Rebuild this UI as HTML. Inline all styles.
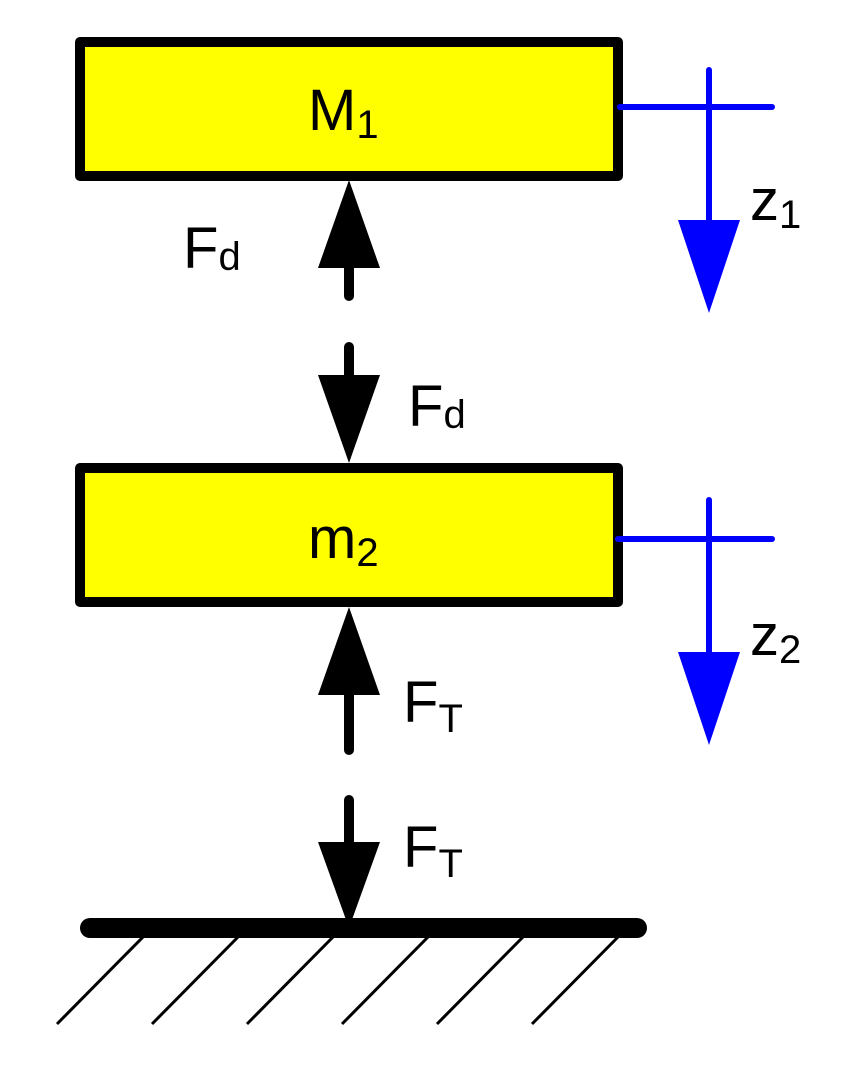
<!DOCTYPE html>
<html><head><style>body{margin:0;background:#fff}svg{display:block}</style></head>
<body>
<svg width="859" height="1074" viewBox="0 0 859 1074" xmlns="http://www.w3.org/2000/svg" font-family="Liberation Sans, sans-serif">
<rect x="80" y="42" width="538" height="134" fill="#ffff00" stroke="#000" stroke-width="10" stroke-linejoin="round"/>
<rect x="80" y="468" width="538" height="134" fill="#ffff00" stroke="#000" stroke-width="10" stroke-linejoin="round"/>
<text x="308" y="130" font-size="58">M<tspan font-size="40" dy="8">1</tspan></text>
<text x="308" y="558" font-size="58">m<tspan font-size="40" dy="8">2</tspan></text>
<g stroke="#0000ff" stroke-width="6" stroke-linecap="round">
<line x1="620" y1="107" x2="772" y2="107"/><line x1="709" y1="70" x2="709" y2="225"/>
<line x1="618" y1="539" x2="772" y2="539"/><line x1="709" y1="500" x2="709" y2="655"/>
</g>
<polygon points="678,220 740,220 709,313" fill="#0000ff"/>
<polygon points="678,652 740,652 709,745" fill="#0000ff"/>
<text x="750" y="220" font-size="58">z<tspan font-size="40" dy="8">1</tspan></text>
<text x="750" y="655" font-size="58">z<tspan font-size="40" dy="8">2</tspan></text>
<g stroke="#000" stroke-width="10" stroke-linecap="round">
<line x1="349" y1="260" x2="349" y2="296"/>
<line x1="349" y1="347" x2="349" y2="385"/>
<line x1="349" y1="690" x2="349" y2="750"/>
<line x1="349" y1="800" x2="349" y2="850"/>
</g>
<polygon points="349,180 318,268 380,268" fill="#000"/>
<polygon points="318,375 380,375 349,463" fill="#000"/>
<polygon points="349,607 318,695 380,695" fill="#000"/>
<polygon points="318,842 380,842 349,928" fill="#000"/>
<text x="183" y="268" font-size="58">F<tspan font-size="40" dy="2">d</tspan></text>
<text x="408" y="426" font-size="58">F<tspan font-size="40" dy="2">d</tspan></text>
<text x="403" y="722" font-size="58">F<tspan font-size="40" dy="10">T</tspan></text>
<text x="403" y="867" font-size="58">F<tspan font-size="40" dy="10">T</tspan></text>
<line x1="90" y1="928" x2="637" y2="928" stroke="#000" stroke-width="20" stroke-linecap="round"/>
<g stroke="#000" stroke-width="3">
<line x1="143" y1="937" x2="57" y2="1024"/>
<line x1="238" y1="937" x2="152" y2="1024"/>
<line x1="333" y1="937" x2="247" y2="1024"/>
<line x1="428" y1="937" x2="342" y2="1024"/>
<line x1="523" y1="937" x2="437" y2="1024"/>
<line x1="618" y1="937" x2="532" y2="1024"/>
</g>
</svg>
</body></html>
